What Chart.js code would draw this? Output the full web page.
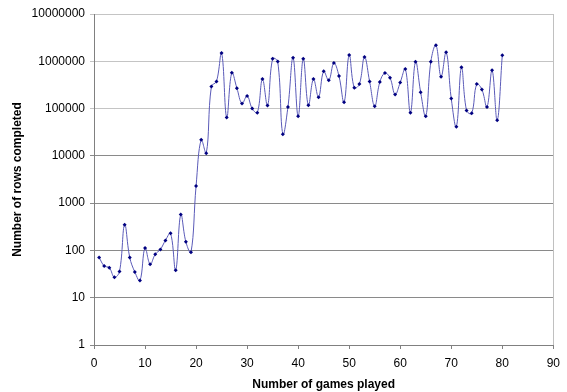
<!DOCTYPE html>
<html>
<head>
<meta charset="utf-8">
<script src="https://cdn.jsdelivr.net/npm/chart.js@4"></script>
<style>
  html, body { margin: 0; padding: 0; background: #fff; }
  #wrap { width: 567px; height: 392px; }
</style>
</head>
<body>
<div id="wrap"><canvas id="rows-chart" width="567" height="392"></canvas></div>
<script>
// games played 1..80
var games = [];
for (var g = 1; g <= 80; g++) games.push(g);

// rows completed per game
var rowsCompleted = [
    71, 47, 43, 27, 36, 350, 71, 35, 23, 113,
    51, 83, 105, 163, 230, 38, 572, 152, 91, 2300,
    21900, 11350, 294000, 375000, 1500000, 64500, 572000, 270000, 128000, 185000,
    100000, 82000, 420000, 116000, 1130000, 985000, 28700, 108000, 1190000, 68600,
    1130000, 117000, 420000, 174000, 612000, 395000, 920000, 487000, 136000, 1360000,
    274000, 329000, 1230000, 375000, 112000, 363000, 564000, 448000, 199000, 357000,
    685000, 82000, 980000, 222000, 68600, 980000, 2190000, 471000, 1550000, 163000,
    41400, 745000, 90600, 79400, 329000, 254000, 108000, 643000, 56400, 1340000
];

var xTicks = [0, 10, 20, 30, 40, 50, 60, 70, 80, 90];
var yTicks = [1, 10, 100, 1000, 10000, 100000, 1000000, 10000000];

var points = games.map(function (g, i) { return { x: g, y: rowsCompleted[i] }; });

// light grey frame line on the right of the plot area
var rightBorder = {
    id: 'rightBorder',
    afterDraw: function (chart) {
        var a = chart.chartArea, ctx = chart.ctx;
        ctx.save();
        ctx.strokeStyle = "#c0c0c0";
        ctx.lineWidth = 1;
        ctx.beginPath();
        ctx.moveTo(Math.round(a.right) + 0.5, a.top);
        ctx.lineTo(Math.round(a.right) + 0.5, a.bottom);
        ctx.stroke();
        ctx.restore();
    }
};

new Chart(document.getElementById("rows-chart"), {
    type: 'line',
    data: {
        datasets: [{
            label: "Rows",
            data: points,
            borderColor: "#5a5ab8",
            borderWidth: 1,
            tension: 0.4,
            pointRadius: 2,
            pointStyle: 'rectRot',
            pointBackgroundColor: "#000080",
            pointBorderColor: "#000080",
            pointBorderWidth: 0,
            fill: false
        }]
    },
    plugins: [rightBorder],
    options: {
        responsive: false,
        animation: false,
        layout: { padding: { top: 14, right: 8, bottom: 0, left: 0 } },
        plugins: {
            legend: { display: false },
            tooltip: { enabled: false }
        },
        scales: {
            x: {
                type: 'linear',
                min: 0,
                max: 90,
                afterBuildTicks: function (axis) {
                    axis.ticks = xTicks.map(function (v) { return { value: v }; });
                },
                afterFit: function (scale) { scale.height = 47; },
                grid: { drawOnChartArea: false, tickLength: 4, color: "#808080" },
                border: { color: "#808080" },
                ticks: { color: "#000", padding: 7, maxRotation: 0, font: { family: "Liberation Sans", size: 12 } },
                title: {
                    display: true,
                    text: "Number of games played",
                    color: "#000",
                    padding: { top: 4, bottom: 0 },
                    font: { family: "Liberation Sans", size: 12, weight: 'bold' }
                }
            },
            y: {
                type: 'logarithmic',
                min: 1,
                max: 10000000,
                afterBuildTicks: function (axis) {
                    axis.ticks = yTicks.map(function (v) { return { value: v }; });
                },
                afterFit: function (scale) { scale.width = 94; },
                grid: {
                    tickLength: 4,
                    color: function (c) {
                        return c.tick && c.tick.value >= 100000 ? "#c4c4c4" : "#8a8a8a";
                    }
                },
                border: { color: "#808080" },
                ticks: {
                    color: "#000",
                    padding: 5,
                    font: { family: "Liberation Sans", size: 12 },
                    callback: function (v) { return String(v); }
                },
                title: {
                    display: true,
                    text: "Number of rows completed",
                    color: "#000",
                    padding: { top: 10, bottom: 0 },
                    font: { family: "Liberation Sans", size: 12, weight: 'bold' }
                }
            }
        }
    }
});
</script>
</body>
</html>
